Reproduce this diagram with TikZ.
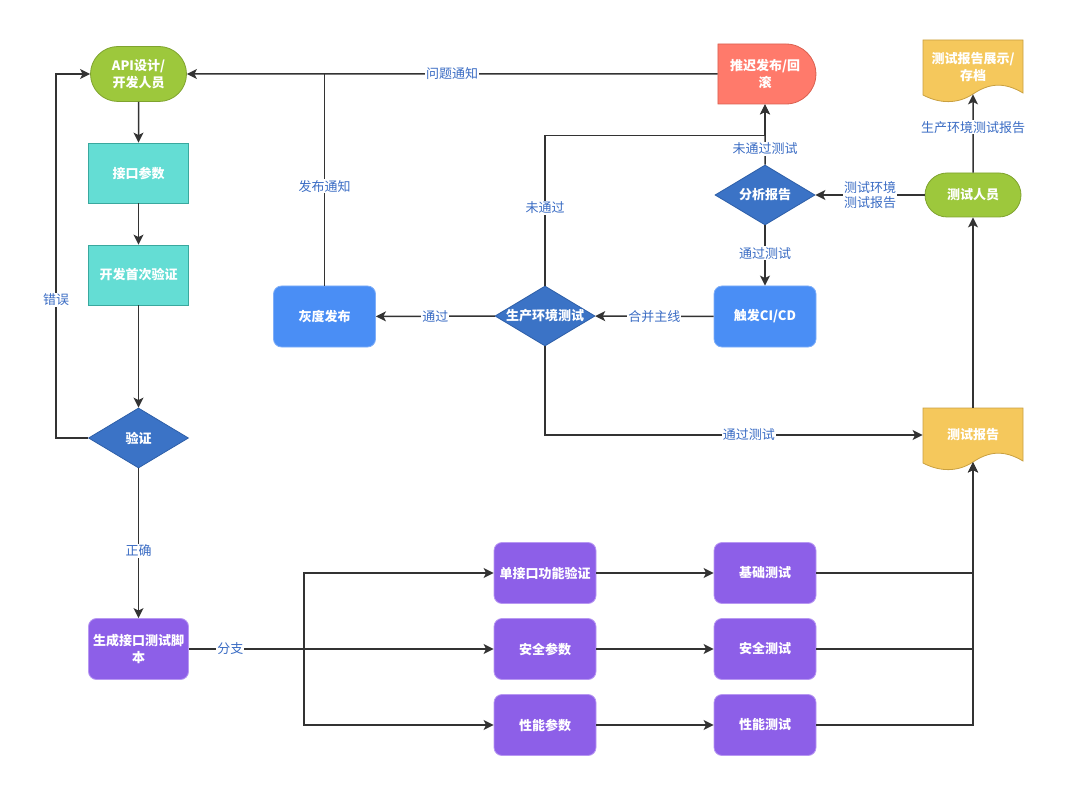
\documentclass[tikz,border=0pt]{standalone}
\usepackage{fontspec}
\setmainfont{Noto Sans CJK SC}
\usetikzlibrary{arrows.meta,shapes.geometric,shapes.misc}

\definecolor{linegray}{HTML}{333333}
\definecolor{lblblue}{HTML}{3A6CC4}
\definecolor{cgreen}{HTML}{9DC83C}
\definecolor{cgreenb}{HTML}{7FA32E}
\definecolor{cteal}{HTML}{64DDD4}
\definecolor{ctealb}{HTML}{3AA89E}
\definecolor{cdiam}{HTML}{3B73C6}
\definecolor{cdiamb}{HTML}{2E5FA8}
\definecolor{cblue}{HTML}{4A8EF5}
\definecolor{cblueb}{HTML}{7FAEF8}
\definecolor{cpurple}{HTML}{8D5FE8}
\definecolor{cpurpleb}{HTML}{B898F2}
\definecolor{cred}{HTML}{FF7A6B}
\definecolor{credb}{HTML}{D9604F}
\definecolor{cyellow}{HTML}{F5C85C}
\definecolor{cyellowb}{HTML}{C9A040}

\begin{document}
\begin{tikzpicture}[x=1pt,y=-1pt,
	flow/.style={draw=linegray,line width=1.5pt,-{Stealth[length=10pt,width=10pt,inset=2.5pt]}},
	link/.style={draw=linegray,line width=1.5pt},
	lbl/.style={fill=white,text=lblblue,font=\fontsize{13}{15}\selectfont,inner sep=1pt,align=center},
	box/.style={text=white,font=\bfseries\fontsize{13}{17}\selectfont,align=center,inner sep=2pt,line width=0.8pt},
	plain/.style={box,rectangle,minimum width=100pt,minimum height=60pt,fill=cteal,draw=ctealb},
	task/.style={box,rectangle,rounded corners=8pt,minimum width=102pt,minimum height=61pt},
	stadium/.style={box,rounded rectangle,minimum width=100pt,fill=cgreen,draw=cgreenb},
	decide/.style={box,diamond,aspect=1.667,minimum width=100pt,minimum height=60pt,inner sep=0pt,fill=cdiam,draw=cdiamb}]
	
	\useasboundingbox (0,0) rectangle (1068,794);
	
	% Left column
	\node[stadium,minimum height=55pt] (api) at (138.5,74) {API设计/\\开发人员};
	\node[plain] (param) at (138.5,173) {接口参数};
	\node[plain] (firstcheck) at (138.5,275) {开发首次验证};
	\node[decide] (check) at (138.5,438) {验证};
	\node[task,minimum width=100pt,fill=cpurple,draw=cpurpleb] (gen) at (138.5,649) {生成接口测试脚\\本};
	
	% Test branches
	\node[task,fill=cpurple,draw=cpurpleb] (unit) at (545,573) {单接口功能验证};
	\node[task,fill=cpurple,draw=cpurpleb] (secparam) at (545,649) {安全参数};
	\node[task,fill=cpurple,draw=cpurpleb] (perfparam) at (545,725) {性能参数};
	\node[task,fill=cpurple,draw=cpurpleb] (basictest) at (765,573) {基础测试};
	\node[task,fill=cpurple,draw=cpurpleb] (sectest) at (765,649) {安全测试};
	\node[task,fill=cpurple,draw=cpurpleb] (perftest) at (765,725) {性能测试};
	
	% Release path
	\node[task,fill=cblue,draw=cblueb] (gray) at (324.5,316.5) {灰度发布};
	\node[decide] (prod) at (545,316) {生产环境测试};
	\node[task,fill=cblue,draw=cblueb] (cicd) at (765,316.5) {触发CI/CD};
	\node[decide] (analyse) at (765,195) {分析报告};
	\node[box,rounded rectangle,rounded rectangle west arc=none,minimum width=102pt,minimum height=60pt,fill=cred,draw=credb] (delay) at (765,74) {推迟发布/回\\滚};
	\node[stadium,minimum height=44pt] (tester) at (973,195) {测试人员};
	
	% Document shapes
	\filldraw[fill=cyellow,draw=cyellowb,line width=0.8pt] (923,408) -- (1023,408) -- (1023,461)
		.. controls (1003,449) and (988,452) .. (973,462)
		.. controls (958,472) and (940,472) .. (923,463) -- cycle;
	\node[box,minimum width=100pt,minimum height=54pt] (report) at (973,435) {测试报告};
	
	\filldraw[fill=cyellow,draw=cyellowb,line width=0.8pt] (923,40) -- (1023,40) -- (1023,93)
		.. controls (1003,81) and (988,84) .. (973,94)
		.. controls (958,104) and (940,104) .. (923,95) -- cycle;
	\node[box,minimum width=100pt,minimum height=54pt] (archive) at (973,67) {测试报告展示/\\存档};
	
	% Draw left column lines
	\draw[flow] (api) -- (param);
	\draw[flow] (param) -- (firstcheck);
	\draw[flow] (firstcheck) -- (check);
	\draw[flow] (check.west) -- ++(-32,0) |- node[lbl,pos=0.19]{错误} (api.west);
	\draw[flow] (check.south) -- node[lbl,pos=0.55]{正确} (gen.north);
	
	% Draw branch lines
	\coordinate (split) at (304,649);
	\draw[link] (gen.east) -- node[lbl,pos=0.36]{分支} (split);
	\draw[flow] (split) |- (unit.west);
	\draw[flow] (split) -- (secparam.west);
	\draw[flow] (split) |- (perfparam.west);
	\draw[flow] (unit) -- (basictest);
	\draw[flow] (secparam) -- (sectest);
	\draw[flow] (perfparam) -- (perftest);
	\draw[flow] (basictest.east) -| (report.south);
	\draw[flow] (sectest.east) -| (report.south);
	\draw[flow] (perftest.east) -| (report.south);
	
	% Draw report lines
	\draw[flow] (report) -- (tester);
	\draw[flow] (tester) -- node[lbl,pos=0.58]{生产环境测试报告} (archive.south);
	\draw[flow] (tester) -- node[lbl]{测试环境\\测试报告} (analyse);
	\draw[flow] (analyse) -- node[lbl,pos=0.46]{通过测试} (cicd);
	\draw[flow] (analyse) -- node[lbl,pos=0.26]{未通过测试} (delay);
	
	% Draw release lines
	\draw[flow] (delay) -- node[lbl]{问题通知} (api);
	\draw[flow] (cicd) -- node[lbl]{合并主线} (prod);
	\draw[flow] (prod) -- node[lbl]{通过} (gray);
	\draw[link] (gray) -- node[lbl,pos=0.47]{发布通知} (gray.north |- api.east);
	\draw[flow] (prod.north) -- node[lbl,pos=0.52]{未通过} ++(0,-150) -| (delay.south);
	\draw[flow] (prod.south) |- node[lbl,pos=0.77]{通过测试} (report.west);
	
\end{tikzpicture}
\end{document}
